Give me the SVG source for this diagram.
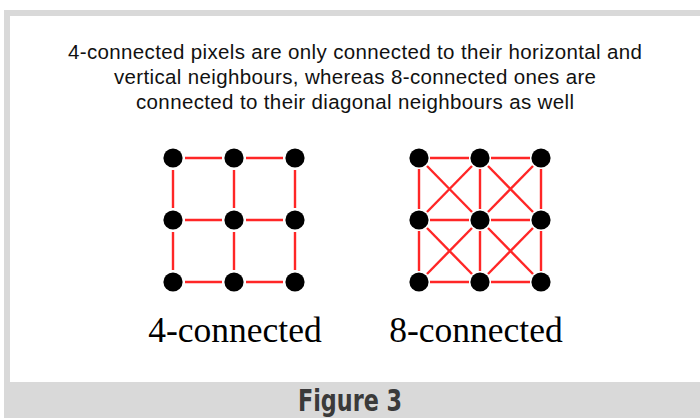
<svg xmlns="http://www.w3.org/2000/svg" width="700" height="418" viewBox="0 0 700 418">
  <style>
    .frame { fill: #d9d9d9; }
    .panel { fill: #ffffff; }
    .desc { font-family: "Liberation Sans", Arial, sans-serif; font-size: 20.5px; fill: #111; text-anchor: middle; }
    .label { font-family: "Liberation Serif", "Times New Roman", serif; font-size: 35.5px; fill: #000; text-anchor: middle; }
    .caption { font-family: "Liberation Sans Narrow", "DejaVu Sans Condensed", "Liberation Sans", sans-serif; font-weight: bold; font-size: 30px; fill: #3a3a3a; text-anchor: middle; }
    .edge { stroke: #ff2626; stroke-width: 2.4; fill: none; stroke-linecap: butt; }
    .px { fill: #000; }
  </style>
  <defs>
    <circle id="dot" r="9.6" class="px"/>
  </defs>

  <rect class="frame" x="4" y="10" width="696" height="408"/>
  <rect class="panel" x="10" y="16" width="690" height="366"/>

  <text class="desc" x="355" y="59" textLength="574" lengthAdjust="spacing">4-connected pixels are only connected to their horizontal and</text>
  <text class="desc" x="355" y="84" textLength="482" lengthAdjust="spacing">vertical neighbours, whereas 8-connected ones are</text>
  <text class="desc" x="355" y="109" textLength="438" lengthAdjust="spacing">connected to their diagonal neighbours as well</text>

  <g id="connectors">
    <g id="edges-4">
      <line class="edge" x1="185" y1="158" x2="222" y2="158"/>
      <line class="edge" x1="246" y1="158" x2="283" y2="158"/>
      <line class="edge" x1="185" y1="220" x2="222" y2="220"/>
      <line class="edge" x1="246" y1="220" x2="283" y2="220"/>
      <line class="edge" x1="185" y1="282" x2="222" y2="282"/>
      <line class="edge" x1="246" y1="282" x2="283" y2="282"/>
      <line class="edge" x1="173" y1="170" x2="173" y2="208"/>
      <line class="edge" x1="173" y1="232" x2="173" y2="270"/>
      <line class="edge" x1="234" y1="170" x2="234" y2="208"/>
      <line class="edge" x1="234" y1="232" x2="234" y2="270"/>
      <line class="edge" x1="295" y1="170" x2="295" y2="208"/>
      <line class="edge" x1="295" y1="232" x2="295" y2="270"/>
    </g>
    <g id="edges-8">
      <line class="edge" x1="430" y1="158" x2="469" y2="158"/>
      <line class="edge" x1="491" y1="158" x2="530" y2="158"/>
      <line class="edge" x1="430" y1="220" x2="469" y2="220"/>
      <line class="edge" x1="491" y1="220" x2="530" y2="220"/>
      <line class="edge" x1="430" y1="282" x2="469" y2="282"/>
      <line class="edge" x1="491" y1="282" x2="530" y2="282"/>
      <line class="edge" x1="419" y1="169" x2="419" y2="209"/>
      <line class="edge" x1="419" y1="231" x2="419" y2="271"/>
      <line class="edge" x1="480" y1="169" x2="480" y2="209"/>
      <line class="edge" x1="480" y1="231" x2="480" y2="271"/>
      <line class="edge" x1="541" y1="169" x2="541" y2="209"/>
      <line class="edge" x1="541" y1="231" x2="541" y2="271"/>
      <line class="edge" x1="427" y1="166" x2="472" y2="212"/>
      <line class="edge" x1="472" y1="166" x2="427" y2="212"/>
      <line class="edge" x1="488" y1="166" x2="533" y2="212"/>
      <line class="edge" x1="533" y1="166" x2="488" y2="212"/>
      <line class="edge" x1="427" y1="228" x2="472" y2="274"/>
      <line class="edge" x1="472" y1="228" x2="427" y2="274"/>
      <line class="edge" x1="488" y1="228" x2="533" y2="274"/>
      <line class="edge" x1="533" y1="228" x2="488" y2="274"/>
    </g>
  </g>

  <g id="n4-00"><use href="#dot" x="173" y="158"/></g>
  <g id="n4-01"><use href="#dot" x="234" y="158"/></g>
  <g id="n4-02"><use href="#dot" x="295" y="158"/></g>
  <g id="n4-10"><use href="#dot" x="173" y="220"/></g>
  <g id="n4-11"><use href="#dot" x="234" y="220"/></g>
  <g id="n4-12"><use href="#dot" x="295" y="220"/></g>
  <g id="n4-20"><use href="#dot" x="173" y="282"/></g>
  <g id="n4-21"><use href="#dot" x="234" y="282"/></g>
  <g id="n4-22"><use href="#dot" x="295" y="282"/></g>

  <g id="n8-00"><use href="#dot" x="419" y="158"/></g>
  <g id="n8-01"><use href="#dot" x="480" y="158"/></g>
  <g id="n8-02"><use href="#dot" x="541" y="158"/></g>
  <g id="n8-10"><use href="#dot" x="419" y="220"/></g>
  <g id="n8-11"><use href="#dot" x="480" y="220"/></g>
  <g id="n8-12"><use href="#dot" x="541" y="220"/></g>
  <g id="n8-20"><use href="#dot" x="419" y="282"/></g>
  <g id="n8-21"><use href="#dot" x="480" y="282"/></g>
  <g id="n8-22"><use href="#dot" x="541" y="282"/></g>

  <text class="label" x="235" y="342">4-connected</text>
  <text class="label" x="476" y="342">8-connected</text>

  <text class="caption" x="350" y="411" textLength="104" lengthAdjust="spacingAndGlyphs">Figure 3</text>
</svg>
